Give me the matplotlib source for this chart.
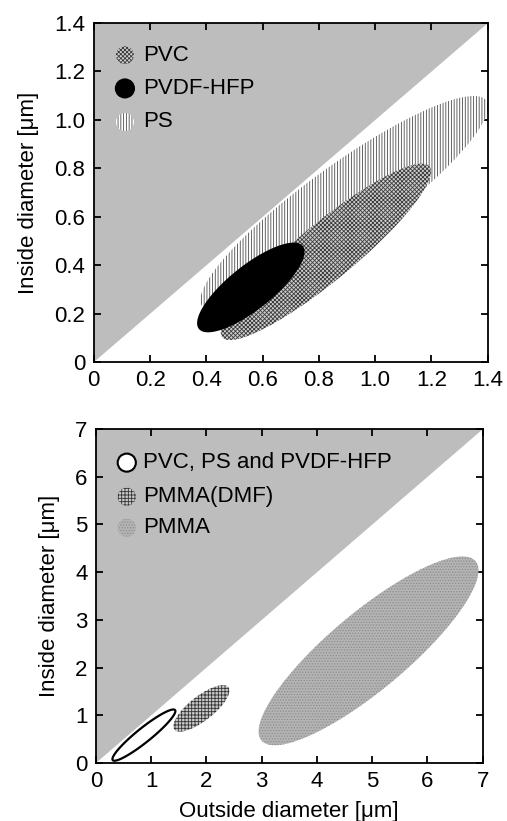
import matplotlib
matplotlib.use("Agg")
import matplotlib.pyplot as plt
import numpy as np
from matplotlib.patches import Ellipse, Polygon

plt.rcParams['font.family'] = ['Liberation Sans', 'DejaVu Sans']
plt.rcParams['hatch.linewidth'] = 0.6

# ellipse data: center x, center y, semi-major, semi-minor, angle (deg, data units)
top_names = ["PVC", "PVDF-HFP", "PS"]
top_cx = [0.825, 0.558, 0.89]
top_cy = [0.455, 0.308, 0.655]
top_a = [0.51, 0.252, 0.66]
top_b = [0.11, 0.085, 0.15]
top_ang = [44.2, 43.9, 40.5]

bot_names = ["PVC, PS and PVDF-HFP", "PMMA(DMF)", "PMMA"]
bot_cx = [0.87, 1.91, 4.935]
bot_cy = [0.585, 1.145, 2.35]
bot_a = [0.77, 0.66, 2.70]
bot_b = [0.14, 0.24, 0.76]
bot_ang = [43.2, 43.5, 44.8]

top_ticks = [0, 0.2, 0.4, 0.6, 0.8, 1.0, 1.2, 1.4]
top_ticklabels = ["0", "0.2", "0.4", "0.6", "0.8", "1.0", "1.2", "1.4"]
bot_ticks = [0, 1, 2, 3, 4, 5, 6, 7]

# drawing order and style for each set
top_order = [2, 0, 1]
top_style = {
    "PVC": dict(facecolor="#cfcfcf", edgecolor="#3c3c3c", hatch="xxxxxxxx"),
    "PVDF-HFP": dict(facecolor="black", edgecolor="black", hatch=None),
    "PS": dict(facecolor="white", edgecolor="#4a4a4a", hatch="||||||"),
}
bot_style = {
    "PVC, PS and PVDF-HFP": dict(facecolor="white", edgecolor="black", hatch=None),
    "PMMA(DMF)": dict(facecolor="#c8c8c8", edgecolor="#333333", hatch="+++++"),
    "PMMA": dict(facecolor="#b4b4b4", edgecolor="#8c8c8c", hatch="......"),
}
GREY = "#bdbdbd"
FS = 16


def ellipse_xy(cx, cy, a, b, ang, n=200):
    t = np.linspace(0, 2 * np.pi, n)
    th = np.deg2rad(ang)
    x = cx + a * np.cos(th) * np.cos(t) - b * np.sin(th) * np.sin(t)
    y = cy + a * np.sin(th) * np.cos(t) + b * np.cos(th) * np.sin(t)
    return np.column_stack([x, y])


def setup_axes(ax, lim, ticks, labels):
    ax.set_xlim(0, lim)
    ax.set_ylim(0, lim)
    ax.add_patch(Polygon([[0, 0], [0, lim], [lim, lim]], closed=True,
                         facecolor=GREY, edgecolor="none", zorder=0))
    ax.set_xticks(ticks)
    ax.set_yticks(ticks)
    ax.set_xticklabels(labels)
    ax.set_yticklabels(labels)
    ax.tick_params(direction="in", top=True, right=True, length=5, width=1.3,
                   labelsize=FS, pad=6)
    for s in ax.spines.values():
        s.set_linewidth(1.3)
    ax.set_ylabel("Inside diameter [\u03bcm]", fontsize=FS, labelpad=11)


def legend_item(ax, xm, ym, xt, name, st, w, h):
    ax.add_patch(Ellipse((xm, ym), w, h, transform=ax.transAxes,
                         facecolor=st["facecolor"], edgecolor=st["edgecolor"],
                         hatch=st["hatch"], linewidth=1.5 if st["hatch"] is None else 0,
                         zorder=5))
    ax.text(xt, ym, name, transform=ax.transAxes, fontsize=FS, va="center",
            ha="left", zorder=5)


fig = plt.figure(figsize=(5.07, 8.21), dpi=100)
ax1 = fig.add_axes([0.185, 0.559, 0.777, 0.413])
ax2 = fig.add_axes([0.189, 0.0706, 0.763, 0.407])

# top panel
setup_axes(ax1, 1.4, top_ticks, top_ticklabels)
for i in top_order:
    st = top_style[top_names[i]]
    ax1.add_patch(Polygon(ellipse_xy(top_cx[i], top_cy[i], top_a[i], top_b[i], top_ang[i]),
                          closed=True, facecolor=st["facecolor"], edgecolor=st["edgecolor"],
                          hatch=st["hatch"], linewidth=0, zorder=2))
leg_y1 = [0.905, 0.807, 0.708]
for name, yy in zip(top_names, leg_y1):
    legend_item(ax1, 0.079, yy, 0.125, name, top_style[name], 0.046, 0.053)

# bottom panel
setup_axes(ax2, 7, bot_ticks, [str(t) for t in bot_ticks])
for i in [2, 1, 0]:
    st = bot_style[bot_names[i]]
    lw = 1.6 if st["hatch"] is None else 0
    ax2.add_patch(Polygon(ellipse_xy(bot_cx[i], bot_cy[i], bot_a[i], bot_b[i], bot_ang[i]),
                          closed=True, facecolor=st["facecolor"], edgecolor=st["edgecolor"],
                          hatch=st["hatch"], linewidth=lw, zorder=2))
leg_y2 = [0.899, 0.797, 0.704]
for name, yy in zip(bot_names, leg_y2):
    legend_item(ax2, 0.08, yy, 0.122, name, bot_style[name], 0.047, 0.054)
ax2.set_xlabel("Outside diameter [\u03bcm]", fontsize=FS, labelpad=6)

fig.savefig("out.png", dpi=100)
